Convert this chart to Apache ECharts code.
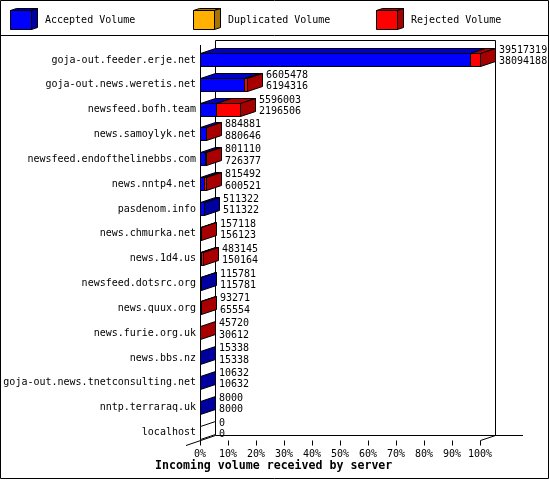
<!DOCTYPE html>
<html>
<head>
<meta charset="utf-8">
<script src="https://cdn.jsdelivr.net/npm/echarts@6/dist/echarts.min.js"></script>
<style>html,body{margin:0;padding:0;background:#fff}#c{width:550px;height:480px}</style>
</head>
<body>
<div id="c"></div>
<script>
const categories = [
  'goja-out.feeder.erje.net','goja-out.news.weretis.net','newsfeed.bofh.team','news.samoylyk.net',
  'newsfeed.endofthelinebbs.com','news.nntp4.net','pasdenom.info','news.chmurka.net',
  'news.1d4.us','newsfeed.dotsrc.org','news.quux.org','news.furie.org.uk',
  'news.bbs.nz','goja-out.news.tnetconsulting.net','nntp.terraraq.uk','localhost'
];
const totalVolume = [39517319, 6605478, 5596003, 884881, 801110, 815492, 511322, 157118,
  483145, 115781, 93271, 45720, 15338, 10632, 8000, 0];
const acceptedVolume = [38094188, 6194316, 2196506, 880646, 726377, 600521, 511322, 156123,
  150164, 115781, 65554, 30612, 15338, 10632, 8000, 0];
const legendNames = ['Accepted Volume', 'Duplicated Volume', 'Rejected Volume'];
const axisTitle = 'Incoming volume received by server';

const FONT = '"DejaVu Sans Mono", "Liberation Mono", monospace';
const COL = {
  blue: '#0000ff', blueTop: '#0000c8', blueSide: '#0000a0',
  orange: '#ffb000', orangeSide: '#a87400',
  red: '#ff0000', redTop: '#b40000', redSide: '#a80000'
};
const DX = 15, DY = 5;
const maxTotal = Math.max(...totalVolume);
const barData = categories.map((c, i) => [
  totalVolume[i] / maxTotal * 100, acceptedVolume[i] / maxTotal * 100, i, totalVolume[i], acceptedVolume[i]
]);

function px(v) { return Math.round(v) + 0.5; }
function st(fill) { return { fill: fill, stroke: '#000', lineWidth: 1 }; }

function renderItem(params, api) {
  const i = api.value(2);
  const p0 = api.coord([0, i]);
  const c = p0[1];
  const x0 = px(p0[0]);
  const xA = px(api.coord([api.value(1), i])[0]);
  const xL = px(api.coord([api.value(0), i])[0]);
  const yT = px(c - 7), yB = px(c + 6);
  const total = api.value(3), acc = api.value(4);
  const kids = [];
  const topFace = (a, b, fill) => ({ type: 'polygon',
    shape: { points: [[a, yT], [b, yT], [b + DX, yT - DY], [a + DX, yT - DY]] }, style: st(fill) });
  if (xA > x0) kids.push(topFace(x0, xA, COL.blueTop));
  if (xL > xA) kids.push(topFace(xA, xL, COL.redTop));
  if (xA > x0) kids.push({ type: 'rect', shape: { x: x0, y: yT, width: xA - x0, height: yB - yT }, style: st(COL.blue) });
  if (xL > xA) kids.push({ type: 'rect', shape: { x: xA, y: yT, width: xL - xA, height: yB - yT }, style: st(COL.red) });
  const sideFill = total === 0 ? '#ffffff' : (total > acc ? COL.redSide : COL.blueSide);
  kids.push({ type: 'polygon',
    shape: { points: [[xL, yT], [xL + DX, yT - DY], [xL + DX, yB - DY], [xL, yB]] }, style: st(sideFill) });
  const tx = Math.round(xL + DX + 3);
  kids.push({ type: 'text', style: { text: String(total), x: tx, y: Math.round(c - 10), fill: '#000',
    font: '10px ' + FONT, align: 'left', verticalAlign: 'middle' } });
  kids.push({ type: 'text', style: { text: String(acc), x: tx, y: Math.round(c + 1.5), fill: '#000',
    font: '10px ' + FONT, align: 'left', verticalAlign: 'middle' } });
  return { type: 'group', children: kids };
}

// decoration: frame, legend, 3D walls
const graphics = [];
const line = (x1, y1, x2, y2) => ({ type: 'line', z: 0, shape: { x1, y1, x2, y2 }, style: { stroke: '#000', lineWidth: 1 } });
graphics.push({ type: 'rect', z: 0, shape: { x: 0.5, y: 0.5, width: 548, height: 478 }, style: { fill: 'none', stroke: '#000', lineWidth: 1 } });
graphics.push(line(0, 35.5, 549, 35.5));
const legendColors = [[COL.blue, COL.blueSide], [COL.orange, COL.orangeSide], [COL.red, COL.redSide]];
legendNames.forEach((n, k) => {
  const x = 10.5 + k * 183, y = 10.5, w = 21, h = 19, dx = 6, dy = 2;
  graphics.push({ type: 'polygon', z: 1, shape: { points: [[x, y], [x + dx, y - dy], [x + w + dx, y - dy], [x + w, y]] }, style: st(legendColors[k][1]) });
  graphics.push({ type: 'polygon', z: 1, shape: { points: [[x + w, y], [x + w + dx, y - dy], [x + w + dx, y + h - dy], [x + w, y + h]] }, style: st(legendColors[k][1]) });
  graphics.push({ type: 'rect', z: 1, shape: { x: x, y: y, width: w, height: h }, style: st(legendColors[k][0]) });
  graphics.push({ type: 'text', z: 1, style: { text: n, x: 45 + k * 183, y: 20, fill: '#000', font: '10px ' + FONT, verticalAlign: 'middle' } });
});
// walls
graphics.push(line(215.5, 40.5, 495.5, 40.5));
graphics.push(line(215.5, 40.5, 215.5, 435.5));
graphics.push(line(495.5, 40.5, 495.5, 435.5));
graphics.push(line(215.5, 435.5, 523, 435.5));
graphics.push(line(200.5, 45, 200.5, 440.5));
graphics.push(line(186, 445.5, 215.5, 435.5));
graphics.push(line(480.5, 440.5, 495.5, 435.5));

const chart = echarts.init(document.getElementById('c'));
chart.setOption({
  animation: false,
  backgroundColor: '#fff',
  title: { text: axisTitle, left: 155, top: 460, padding: 0,
    textStyle: { fontFamily: FONT, fontWeight: 'bold', fontSize: 11.6, color: '#000' } },
  grid: [
    { left: 200, top: 47.5, width: 280, height: 397.5 },
    { left: 200, top: 47.5, width: 280, height: 393 }
  ],
  xAxis: [
    { gridIndex: 0, type: 'value', min: 0, max: 100, show: false },
    { gridIndex: 1, type: 'value', min: 0, max: 100, interval: 10,
      axisLine: { show: false }, splitLine: { show: false },
      axisTick: { show: true, length: 5, lineStyle: { color: '#000' } },
      axisLabel: { formatter: '{value}%', color: '#000', fontFamily: FONT, fontSize: 10, margin: 9 } }
  ],
  yAxis: [
    { gridIndex: 0, type: 'category', data: categories, inverse: true,
      axisLine: { show: false }, axisTick: { show: false }, splitLine: { show: false },
      axisLabel: { color: '#000', fontFamily: FONT, fontSize: 10, margin: 4 } },
    { gridIndex: 1, type: 'value', show: false }
  ],
  graphic: graphics,
  series: [{
    type: 'custom', xAxisIndex: 0, yAxisIndex: 0, clip: false, z: 10,
    renderItem: renderItem,
    encode: { x: [0, 1], y: 2 },
    data: barData
  }]
});
</script>
</body>
</html>
